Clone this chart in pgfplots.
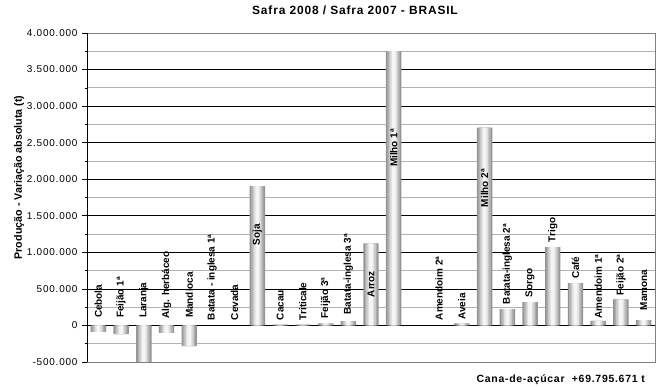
\documentclass[border=0pt]{standalone}
\usepackage{fontspec}
\setmainfont{Liberation Sans}
\newfontfamily\lsfont[LetterSpace=7]{Liberation Sans}
\newfontfamily\tickfont[LetterSpace=8]{Liberation Sans}
\usepackage{pgfplots}
\usepackage{pgfplotstable}
\pgfplotsset{compat=1.18}
\tikzset{lbl/.style={rotate=90, anchor=west, inner sep=0pt, font=\bfseries\fontsize{10}{12}\selectfont}}

\pgfplotstableread{
x y
0 -88000
1 -119000
2 -500000
3 -101000
4 -284000
7 1904000
8 10000
9 10000
10 30000
11 60000
12 1123000
13 3753000
16 30000
17 2707000
18 223000
19 319000
20 1072000
21 579000
22 63000
23 356000
24 72000
}\bars

\begin{document}
\begin{tikzpicture}
\path[use as bounding box] (0,0) rectangle (661bp,387bp);
\begin{axis}[
 at={(87bp,25bp)}, anchor=south west,
 scale only axis, width=568bp, height=329bp,
 xmin=-0.5, xmax=24.5, ymin=-500000, ymax=4000000,
 xtick=\empty,
 ytick={-500000,0,500000,1000000,1500000,2000000,2500000,3000000,3500000,4000000},
 yticklabels={-500.000,0,500.000,1.000.000,1.500.000,2.000.000,2.500.000,3.000.000,3.500.000,4.000.000},
 minor ytick={-250000,250000,750000,1250000,1750000,2250000,2750000,3250000,3750000},
 axis line style={black!50, line width=0.8pt},
 ytick pos=left, tick align=outside, major tick length=5bp, minor tick length=2bp,
 tick style={black, line width=0.6pt},
 yticklabel style={font=\tickfont\fontsize{10}{12}\selectfont, xshift=-1bp},
 scaled y ticks=false,
]
\pgfplotsinvokeforeach{-250000,250000,750000,1250000,1750000,2250000,2750000,3250000,3750000}{
 \draw[draw=black!30, line width=0.7pt] (axis cs:-0.5,#1) -- (axis cs:24.5,#1);
}
\pgfplotsinvokeforeach{0,500000,1000000,1500000,2000000,2500000,3000000,3500000}{
 \draw[draw=black, line width=0.7pt] (axis cs:-0.5,#1) -- (axis cs:24.5,#1);
}
\addplot[ybar, bar shift=0pt, draw=none, fill=black!42, bar width=0.68] table[x=x, y=y] {\bars};
\addplot[ybar, bar shift=0pt, draw=none, fill=black!32, bar width=0.55] table[x=x, y=y] {\bars};
\addplot[ybar, bar shift=0pt, draw=none, fill=black!22, bar width=0.42] table[x=x, y=y] {\bars};
\addplot[ybar, bar shift=0pt, draw=none, fill=black!12, bar width=0.29] table[x=x, y=y] {\bars};
\addplot[ybar, bar shift=0pt, draw=none, fill=black!4, bar width=0.16] table[x=x, y=y] {\bars};
\draw[black, line width=0.8pt] (rel axis cs:0,0) -- (rel axis cs:0,1);
\node[lbl] at (axis cs:0,100000) {Cebola};
\node[lbl] at (axis cs:1,100000) {Feijão 1ª};
\node[lbl] at (axis cs:2,100000) {Laranja};
\node[lbl] at (axis cs:3,95000) {Alg. herbáceo};
\node[lbl] at (axis cs:4,100000) {Mandioca};
\node[lbl] at (axis cs:5,70000) {Batata - inglesa 1ª};
\node[lbl] at (axis cs:6,70000) {Cevada};
\node[lbl] at (axis cs:7,1096000) {Soja};
\node[lbl] at (axis cs:8,70000) {Cacau};
\node[lbl] at (axis cs:9,70000) {Triticale};
\node[lbl] at (axis cs:10,95000) {Feijão 3ª};
\node[lbl] at (axis cs:11,150000) {Batata-inglesa 3ª};
\node[lbl] at (axis cs:12,385000) {Arroz};
\node[lbl] at (axis cs:13,2165000) {Milho 1ª};
\node[lbl] at (axis cs:15,70000) {Amendoim 2ª};
\node[lbl] at (axis cs:16,80000) {Aveia};
\node[lbl] at (axis cs:17,1617000) {Milho 2ª};
\node[lbl] at (axis cs:18,288000) {Batata-inglesa 2ª};
\node[lbl] at (axis cs:19,383000) {Sorgo};
\node[lbl] at (axis cs:20,1137000) {Trigo};
\node[lbl] at (axis cs:21,644000) {Café};
\node[lbl] at (axis cs:22,96000) {Amendoim 1ª};
\node[lbl] at (axis cs:23,411000) {Feijão 2ª};
\node[lbl] at (axis cs:24,205000) {Mamona};
\end{axis}
\node[anchor=base, inner sep=0pt, font=\lsfont\bfseries\fontsize{12}{14}\selectfont] at (355bp,372bp) {Safra 2008 / Safra 2007 - BRASIL};
\node[rotate=90, anchor=center, inner sep=0pt, font=\bfseries\fontsize{10.75}{13}\selectfont] at (19bp,209.5bp) {Produção - Variação absoluta (t)};
\node[anchor=base east, inner sep=0pt, font=\lsfont\bfseries\fontsize{10.5}{12}\selectfont] at (645bp,5bp) {Cana-de-açúcar\ \ +69.795.671 t};
\end{tikzpicture}
\end{document}
